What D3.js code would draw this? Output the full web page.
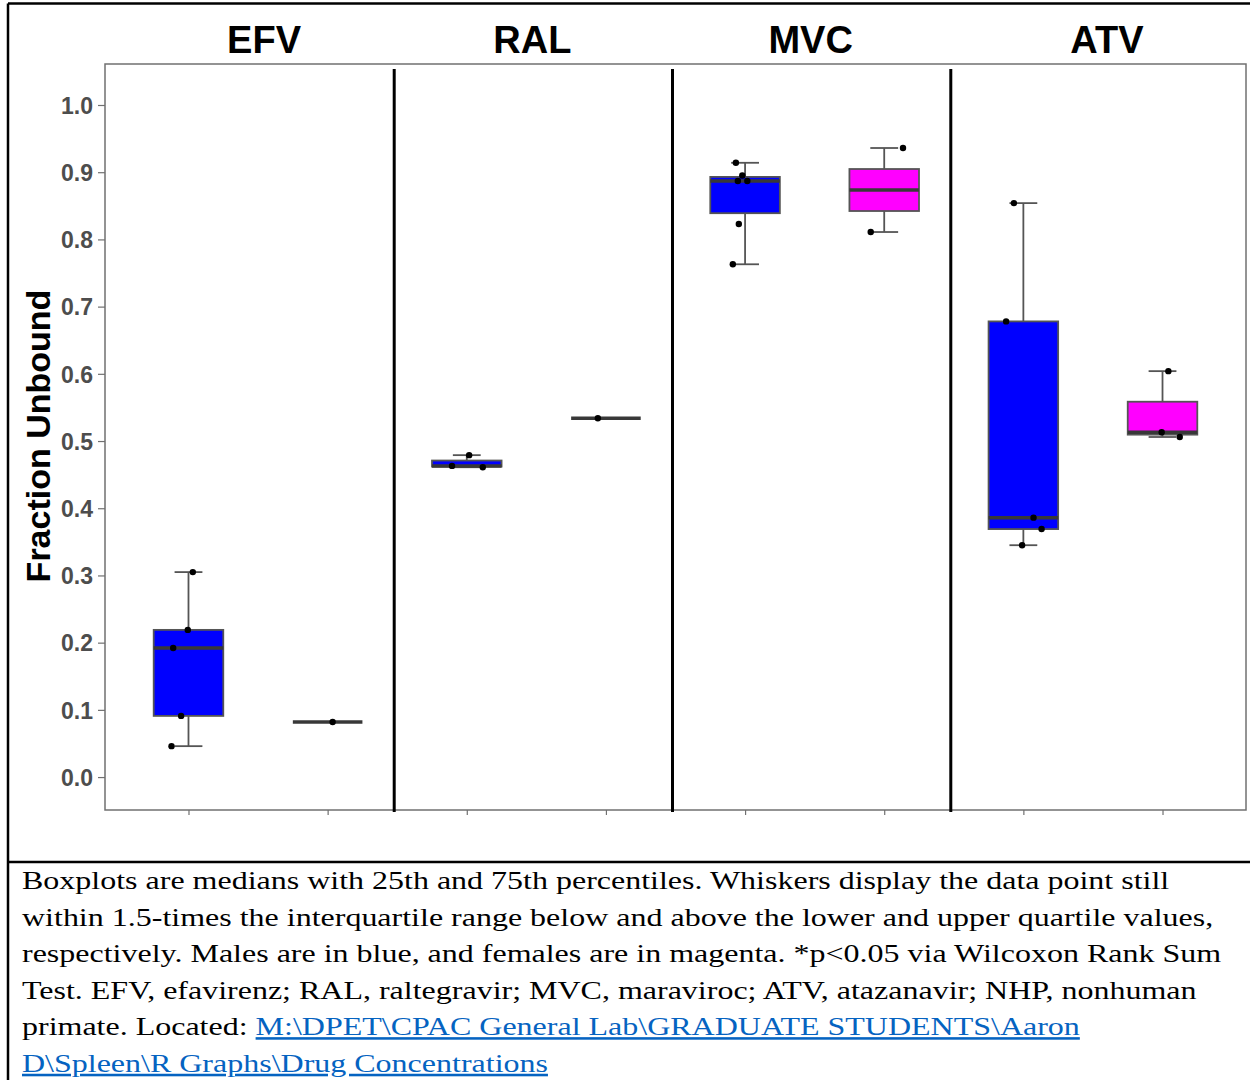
<!DOCTYPE html>
<html>
<head>
<meta charset="utf-8">
<script src="https://cdn.jsdelivr.net/npm/d3@7"></script>
<style>
body { margin: 0; background: #ffffff; }
</style>
</head>
<body>
<div id="canvas-body"></div>
<script>
// drug panels and sexes
var drugs = ["EFV", "RAL", "MVC", "ATV"];
var sexes = ["Male", "Female"];

// fraction unbound per animal
var efv_male = [0.305, 0.219, 0.192, 0.091, 0.046];
var efv_female = [0.082];
var ral_male = [0.479, 0.463, 0.461];
var ral_female = [0.534];
var mvc_male = [0.914, 0.895, 0.887, 0.887, 0.823, 0.763];
var mvc_female = [0.936, 0.811];
var atv_male = [0.854, 0.678, 0.386, 0.369, 0.345];
var atv_female = [0.604, 0.513, 0.506];

// horizontal jitter of each point, as a fraction of one category step
var efv_male_jit = [0.031, -0.005, -0.11, -0.053, -0.122];
var efv_female_jit = [0.036];
var ral_male_jit = [0.017, -0.106, 0.115];
var ral_female_jit = [-0.058];
var mvc_male_jit = [-0.066, -0.02, -0.052, 0.016, -0.045, -0.088];
var mvc_female_jit = [0.135, -0.097];
var atv_male_jit = [-0.068, -0.124, 0.073, 0.131, -0.009];
var atv_female_jit = [0.042, -0.006, 0.124];

// y axis ticks
var yticks = [0, 0.1, 0.2, 0.3, 0.4, 0.5, 0.6, 0.7, 0.8, 0.9, 1.0];

// caption lines (the link part is drawn in blue)
var caption = [
    ["Boxplots are medians with 25th and 75th percentiles. Whiskers display the data point still", ""],
    ["within 1.5-times the interquartile range below and above the lower and upper quartile values,", ""],
    ["respectively. Males are in blue, and females are in magenta. *p<0.05 via Wilcoxon Rank Sum", ""],
    ["Test. EFV, efavirenz; RAL, raltegravir; MVC, maraviroc; ATV, atazanavir; NHP, nonhuman", ""],
    ["primate. Located: ", "M:\\DPET\\CPAC General Lab\\GRADUATE STUDENTS\\Aaron"],
    ["", "D\\Spleen\\R Graphs\\Drug Concentrations"]
];

var groupValues = [efv_male, efv_female, ral_male, ral_female, mvc_male, mvc_female, atv_male, atv_female];
var groupJitter = [efv_male_jit, efv_female_jit, ral_male_jit, ral_female_jit, mvc_male_jit, mvc_female_jit, atv_male_jit, atv_female_jit];
var sexColor = {Male: "#0000ff", Female: "#ff00ff"};

// build box statistics (R type 7 quantiles, 1.5 IQR whiskers)
var groups = [];
drugs.forEach(function(drug, i){
    sexes.forEach(function(sex, j){
        var k = i * 2 + j;
        var v = groupValues[k].slice().sort(d3.ascending);
        var q1 = d3.quantile(v, 0.25), med = d3.quantile(v, 0.5), q3 = d3.quantile(v, 0.75);
        var iqr = q3 - q1;
        var lo = d3.min(v.filter(function(d){ return d >= q1 - 1.5 * iqr; }));
        var hi = d3.max(v.filter(function(d){ return d <= q3 + 1.5 * iqr; }));
        groups.push({
            key: drug + "-" + sex, drug: drug, sex: sex,
            q1: q1, med: med, q3: q3, lo: lo, hi: hi,
            pts: groupValues[k].map(function(d, p){ return {v: d, j: groupJitter[k][p]}; })
        });
    });
});

// size of svg image
const width = 1250, height = 1080;
const panel = {left: 105, right: 1246, top: 64, bottom: 810};

var s = d3.select("#canvas-body")
            .append("svg")
            .attr("width", width)
            .attr("height", height);

// scales
var x = d3.scalePoint()
            .domain(groups.map(function(d){ return d.key; }))
            .range([panel.left, panel.right])
            .padding(0.6);
var y = d3.scaleLinear().domain([-0.049, 1.061]).range([panel.bottom, panel.top]);
var step = x.step();
var boxw = step * 0.5;
var capw = boxw * 0.4;

// table frame around figure and caption
var frame = s.append("g").attr("stroke", "#000").attr("stroke-width", 2.5);
frame.append("line").attr("x1", 8).attr("x2", width).attr("y1", 3.5).attr("y2", 3.5);
frame.append("line").attr("x1", 8).attr("x2", 8).attr("y1", 3.5).attr("y2", height);
frame.append("line").attr("x1", 8).attr("x2", width).attr("y1", 862).attr("y2", 862);

// panel border
s.append("rect")
    .attr("x", panel.left)
    .attr("y", panel.top)
    .attr("width", panel.right - panel.left)
    .attr("height", panel.bottom - panel.top)
    .attr("fill", "none")
    .attr("stroke", "#707070")
    .attr("stroke-width", 1.5);

// x axis (ticks only)
var xaxis = s.append("g")
    .attr("transform", "translate(0," + panel.bottom + ")")
    .call(d3.axisBottom(x).tickSize(5).tickFormat(""));
xaxis.select(".domain").remove();
xaxis.selectAll("line").attr("stroke", "#707070").attr("stroke-width", 1.2);

// y axis
var yaxis = s.append("g")
    .attr("transform", "translate(" + panel.left + ",0)")
    .call(d3.axisLeft(y).tickValues(yticks).tickSize(7).tickPadding(5).tickFormat(d3.format(".1f")));
yaxis.select(".domain").remove();
yaxis.selectAll("line").attr("stroke", "#707070").attr("stroke-width", 1.2);
yaxis.selectAll("text")
    .attr("fill", "#4d4d4d")
    .attr("font-family", "Arial, 'Liberation Sans', sans-serif")
    .attr("font-weight", "bold")
    .attr("font-size", 23)
    .attr("dy", "0.36em");

// vertical dividers between drugs
var dividers = d3.range(1, drugs.length).map(function(i){
    return (x(groups[i * 2 - 1].key) + x(groups[i * 2].key)) / 2 - 3;
});
s.selectAll(".divider")
    .data(dividers)
    .enter()
    .append("line")
    .attr("x1", function(d){ return d; })
    .attr("x2", function(d){ return d; })
    .attr("y1", 69)
    .attr("y2", 812)
    .attr("stroke", "#000")
    .attr("stroke-width", 3);

// facet titles
s.selectAll(".facet")
    .data(drugs)
    .enter()
    .append("text")
    .attr("x", function(d, i){ return (x(groups[i * 2].key) + x(groups[i * 2 + 1].key)) / 2 + (i == 0 ? 6 : i == 3 ? 14 : -4); })
    .attr("y", 53)
    .attr("text-anchor", "middle")
    .attr("font-family", "Arial, 'Liberation Sans', sans-serif")
    .attr("font-weight", "bold")
    .attr("font-size", 38)
    .attr("fill", "#000")
    .text(function(d){ return d; });

// y axis title
s.append("text")
    .attr("transform", "translate(50,436) rotate(-90)")
    .attr("text-anchor", "middle")
    .attr("font-family", "Arial, 'Liberation Sans', sans-serif")
    .attr("font-weight", "bold")
    .attr("font-size", 34)
    .attr("fill", "#000")
    .text("Fraction Unbound");

// boxplots
var bg = s.selectAll(".box")
    .data(groups)
    .enter()
    .append("g")
    .attr("transform", function(d){ return "translate(" + x(d.key) + ",0)"; });

// whisker caps
bg.append("line")
    .attr("x1", -capw / 2).attr("x2", capw / 2)
    .attr("y1", function(d){ return y(d.hi); }).attr("y2", function(d){ return y(d.hi); })
    .attr("stroke", "#555").attr("stroke-width", 1.8);
bg.append("line")
    .attr("x1", -capw / 2).attr("x2", capw / 2)
    .attr("y1", function(d){ return y(d.lo); }).attr("y2", function(d){ return y(d.lo); })
    .attr("stroke", "#555").attr("stroke-width", 1.8);

// whiskers
bg.append("line")
    .attr("x1", 0).attr("x2", 0)
    .attr("y1", function(d){ return y(d.hi); }).attr("y2", function(d){ return y(d.q3); })
    .attr("stroke", "#555").attr("stroke-width", 1.8);
bg.append("line")
    .attr("x1", 0).attr("x2", 0)
    .attr("y1", function(d){ return y(d.q1); }).attr("y2", function(d){ return y(d.lo); })
    .attr("stroke", "#555").attr("stroke-width", 1.8);

// box
bg.append("rect")
    .attr("x", -boxw / 2)
    .attr("width", boxw)
    .attr("y", function(d){ return y(d.q3); })
    .attr("height", function(d){ return y(d.q1) - y(d.q3); })
    .attr("fill", function(d){ return sexColor[d.sex]; })
    .attr("stroke", "#555")
    .attr("stroke-width", 1.8);

// median
bg.append("line")
    .attr("x1", -boxw / 2).attr("x2", boxw / 2)
    .attr("y1", function(d){ return y(d.med); }).attr("y2", function(d){ return y(d.med); })
    .attr("stroke", "#383838").attr("stroke-width", 3.5);

// points
bg.selectAll("circle")
    .data(function(d){ return d.pts; })
    .enter()
    .append("circle")
    .attr("cx", function(d){ return d.j * step; })
    .attr("cy", function(d){ return y(d.v); })
    .attr("r", 3.2)
    .attr("fill", "#000");

// caption text (the source text is set wide, so stretch it horizontally)
var cap = s.append("g")
    .attr("transform", "translate(22,0) scale(1.255,1)")
    .attr("font-family", "'Times New Roman', 'Liberation Serif', serif")
    .attr("font-size", 25.5)
    .attr("fill", "#000");
cap.selectAll("text")
    .data(caption)
    .enter()
    .append("text")
    .attr("x", 0)
    .attr("y", function(d, i){ return 889 + i * 36.6; })
    .each(function(d){
        var t = d3.select(this);
        if(d[0]) t.append("tspan").text(d[0]);
        if(d[1]) t.append("tspan")
            .attr("fill", "#0563c1")
            .attr("text-decoration", "underline")
            .text(d[1]);
    });
</script>
</body>
</html>
